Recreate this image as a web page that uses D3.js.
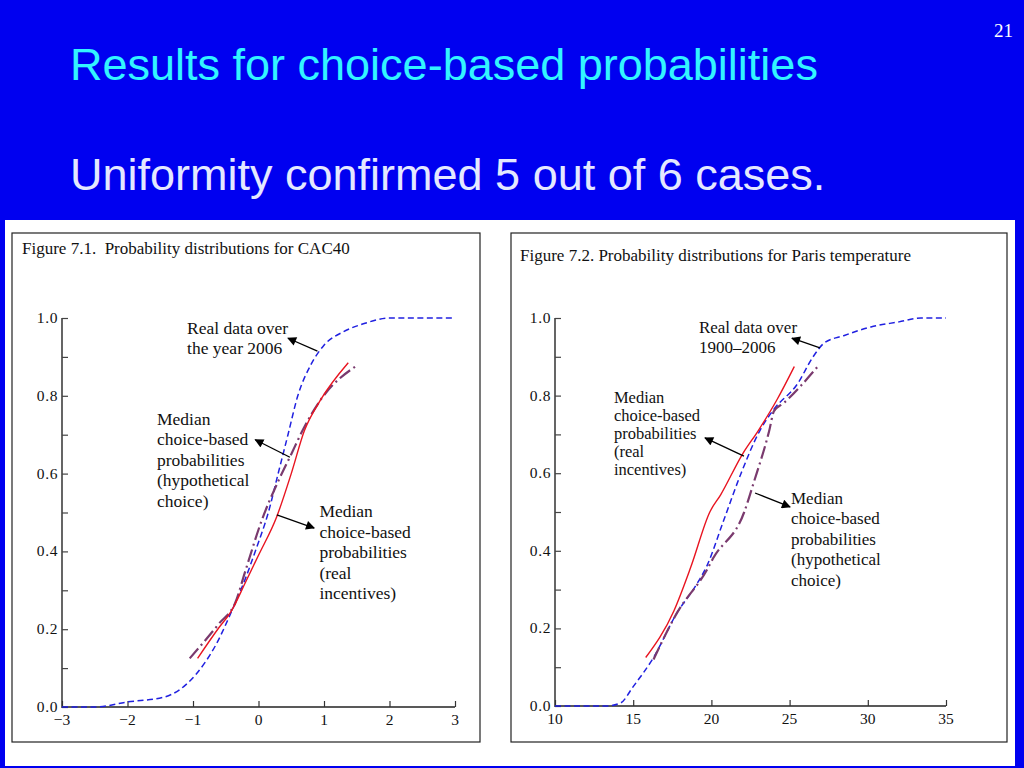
<!DOCTYPE html>
<html><head><meta charset="utf-8">
<script src="https://cdn.jsdelivr.net/npm/d3@7"></script>
<style>body{margin:0;background:#0000f0;overflow:hidden}svg{display:block}</style>
</head><body>
<svg id="c" width="1024" height="768"></svg>
<script>
// ---------- data ----------
const slideTitle = "Results for choice-based probabilities";
const slideSubtitle = "Uniformity confirmed 5 out of 6 cases.";
const pageNumber = "21";

const cacTitle = "Figure 7.1.  Probability distributions for CAC40";
const cacXTicks = [-3, -2, -1, 0, 1, 2, 3];
const cacYTicks = [0.0, 0.2, 0.4, 0.6, 0.8, 1.0];
const cacReal = [[-3,0],[-2.5,0],[-2,0.013],[-1.45,0.025],[-1.2,0.045],[-0.95,0.085],[-0.65,0.16],[-0.4,0.25],[-0.2,0.33],[-0.05,0.4],[0.15,0.5],[0.3,0.6],[0.45,0.7],[0.6,0.8],[0.8,0.88],[1.0,0.93],[1.3,0.965],[1.6,0.985],[2.0,1.0],[3.0,1.0]];
const cacIncentives = [[-0.93,0.125],[-0.6,0.205],[-0.42,0.245],[-0.2,0.32],[0,0.39],[0.28,0.49],[0.5,0.6],[0.7,0.71],[0.95,0.79],[1.37,0.885]];
const cacHypothetical = [[-1.05,0.125],[-0.6,0.215],[-0.35,0.27],[-0.2,0.35],[0.05,0.48],[0.3,0.58],[0.5,0.65],[0.7,0.72],[0.95,0.79],[1.52,0.88]];

const parisTitle = "Figure 7.2. Probability distributions for Paris temperature";
const parisXTicks = [10, 15, 20, 25, 30, 35];
const parisYTicks = [0.0, 0.2, 0.4, 0.6, 0.8, 1.0];
const parisReal = [[10,0],[13.3,0],[14.2,0.008],[15,0.05],[16.3,0.125],[17.8,0.24],[19,0.31],[19.7,0.36],[20.8,0.48],[21.9,0.6],[23.1,0.71],[24,0.765],[25.5,0.83],[26.5,0.9],[27.2,0.935],[28.5,0.955],[30.2,0.977],[32,0.99],[33.4,1.0],[35,1.0]];
const parisIncentives = [[15.8,0.125],[17.6,0.245],[18.7,0.36],[19.9,0.5],[20.6,0.545],[22,0.65],[23,0.71],[24.2,0.79],[25.3,0.875]];
const parisHypothetical = [[16.3,0.12],[17.8,0.24],[19.7,0.35],[20.1,0.38],[22.1,0.5],[22.7,0.575],[23.7,0.71],[24,0.76],[24.6,0.78],[26.8,0.875]];

// annotations: lines of text, anchor (data coords) for text, arrow from -> to (data coords)
const cacNotes = [
  {lines:["Real data over","the year 2006"], at:[-1.09,0.96], from:[0.9,0.915], to:[0.45,0.948]},
  {lines:["Median","choice-based","probabilities","(hypothetical","choice)"], at:[-1.55,0.725], from:[0.48,0.642], to:[-0.05,0.687]},
  {lines:["Median","choice-based","probabilities","(real","incentives)"], at:[0.93,0.488], from:[0.28,0.494], to:[0.85,0.46]}
];
const parisNotes = [
  {lines:["Real data over","1900\u20132006"], at:[19.2,0.962], from:[26.94,0.923], to:[25.15,0.948]},
  {lines:["Median","choice-based","probabilities","(real","incentives)"], at:[13.77,0.781], from:[22.08,0.644], to:[19.59,0.691]},
  {lines:["Median","choice-based","probabilities","(hypothetical","choice)"], at:[25.09,0.521], from:[22.79,0.549], to:[25.03,0.513]}
];

// ---------- drawing ----------
const svg = d3.select("#c");
svg.append("rect").attr("width",1024).attr("height",768).attr("fill","#0000f0");
svg.append("rect").attr("x",5).attr("y",220).attr("width",1010).attr("height",546).attr("fill","#ffffff");

svg.append("text").attr("x",70).attr("y",80).attr("fill","#33f4ff")
  .style("font-family","Liberation Sans, Arial, sans-serif").style("font-size","45px").text(slideTitle);
svg.append("text").attr("x",70).attr("y",190).attr("fill","#e4e8ff")
  .style("font-family","Liberation Sans, Arial, sans-serif").style("font-size","45px").text(slideSubtitle);
svg.append("text").attr("x",1013).attr("y",37).attr("fill","#ffffff").attr("text-anchor","end")
  .style("font-family","Liberation Serif, Times New Roman, serif").style("font-size","19px").text(pageNumber);

const defs = svg.append("defs");
defs.append("marker").attr("id","arr").attr("viewBox","0 0 10 10").attr("refX",9).attr("refY",5)
  .attr("markerWidth",10).attr("markerHeight",9).attr("markerUnits","userSpaceOnUse").attr("orient","auto")
  .append("path").attr("d","M0,0 L10,5 L0,10 z").attr("fill","#000");

const serif = "Liberation Serif, Times New Roman, serif";

function panel(cfg){
  const g = svg.append("g");
  g.append("rect").attr("x",cfg.frame[0]).attr("y",cfg.frame[1]).attr("width",cfg.frame[2]).attr("height",cfg.frame[3])
    .attr("fill","none").attr("stroke","#222").attr("stroke-width",1.2);
  g.append("text").attr("x",cfg.titlePos[0]).attr("y",cfg.titlePos[1]).attr("fill","#111")
    .style("font-family",serif).style("font-size","17px").attr("xml:space","preserve").text(cfg.title);

  const x = d3.scaleLinear().domain(cfg.xDomain).range(cfg.xRange);
  const y = d3.scaleLinear().domain([0,1]).range(cfg.yRange);

  // y axis with inward ticks
  const yAxis = d3.axisRight(y).tickValues(d3.range(0,1.01,0.1)).tickSize(6).tickFormat("");
  const ya = g.append("g").attr("transform",`translate(${cfg.xRange[0]},0)`).call(yAxis);
  ya.select(".domain").attr("stroke","#555").attr("stroke-width",1.8).attr("d",`M0,${cfg.yRange[0]+1}V${cfg.yRange[1]}`);
  ya.selectAll(".tick line").attr("stroke","#444").attr("stroke-width",1.2);
  cfg.yTicks.forEach(v=>{
    g.append("text").attr("x",cfg.xRange[0]-4).attr("y",y(v)+5).attr("text-anchor","end")
      .style("font-family",serif).style("font-size","15.5px").style("letter-spacing","0.6px").attr("fill","#111").text(d3.format(".1f")(v));
  });

  // x axis with upward ticks
  const xAxis = d3.axisTop(x).tickValues(cfg.xTicks).tickSize(6).tickFormat("");
  const xa = g.append("g").attr("transform",`translate(0,${cfg.yRange[0]})`).call(xAxis);
  xa.select(".domain").attr("stroke","#222").attr("stroke-width",1.3).attr("d",`M${cfg.xRange[0]},0H${cfg.xRange[1]}`);
  xa.selectAll(".tick line").attr("stroke","#333").attr("stroke-width",1.2);
  cfg.xTicks.forEach(v=>{
    g.append("text").attr("x",x(v)).attr("y",cfg.yRange[0]+cfg.xLabelDy).attr("text-anchor","middle")
      .style("font-family",serif).style("font-size","15.5px").attr("fill","#111")
      .text(v<0 ? "\u2212"+Math.abs(v) : String(v));
  });

  const line = d3.line().x(d=>x(d[0])).y(d=>y(d[1])).curve(d3.curveMonotoneX);
  g.append("path").datum(cfg.real).attr("d",line).attr("fill","none").attr("stroke","#2020e0")
    .attr("stroke-width",1.5).attr("stroke-dasharray","6,3.5");
  g.append("path").datum(cfg.hyp).attr("d",line).attr("fill","none").attr("stroke","#7a3a6e")
    .attr("stroke-width",2.2).attr("stroke-dasharray","13,4,2,4");
  g.append("path").datum(cfg.inc).attr("d",line).attr("fill","none").attr("stroke","#e81420")
    .attr("stroke-width",1.4);

  cfg.notes.forEach((n,k)=>{
    const fs = cfg.noteFs[k], lh = cfg.lineH[k];
    const t = g.append("text").attr("x",x(n.at[0])).attr("y",y(n.at[1]))
      .style("font-family",serif).style("font-size",fs+"px").attr("fill","#111");
    n.lines.forEach((s,i)=>t.append("tspan").attr("x",x(n.at[0])).attr("dy",i?lh:0).text(s));
    g.append("line").attr("x1",x(n.from[0])).attr("y1",y(n.from[1])).attr("x2",x(n.to[0])).attr("y2",y(n.to[1]))
      .attr("stroke","#000").attr("stroke-width",1.3).attr("marker-end","url(#arr)");
  });
}

panel({frame:[12,233,468,509], title:cacTitle, titlePos:[22,254],
  xDomain:[-3,3], xRange:[62,455], yRange:[707,318], xTicks:cacXTicks, yTicks:cacYTicks, xLabelDy:18,
  real:cacReal, inc:cacIncentives, hyp:cacHypothetical, notes:cacNotes, noteFs:[17.5,17.5,17.5], lineH:[20,20.5,20.5]});
panel({frame:[511,233,496,509], title:parisTitle, titlePos:[520,261],
  xDomain:[10,35], xRange:[555,946], yRange:[706,318], xTicks:parisXTicks, yTicks:parisYTicks, xLabelDy:18,
  real:parisReal, inc:parisIncentives, hyp:parisHypothetical, notes:parisNotes, noteFs:[17,16.5,17], lineH:[20,18,20.5]});
</script>
</body></html>
